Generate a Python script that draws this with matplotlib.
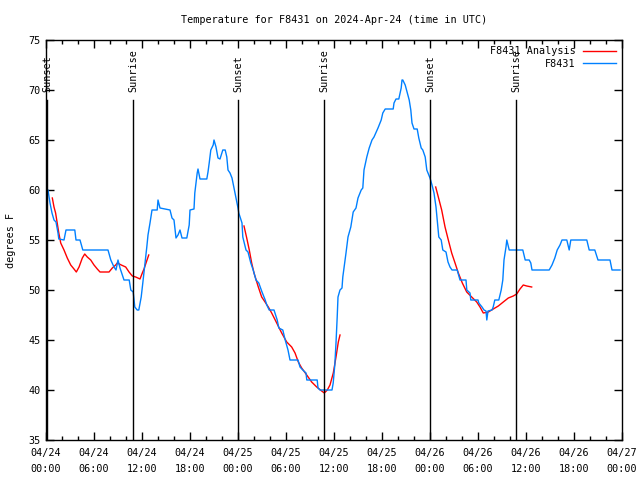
import matplotlib
matplotlib.use("Agg")
import matplotlib.pyplot as plt
from matplotlib.ticker import MultipleLocator, FixedLocator

# ---- data (hours since 2024-04-24 00:00 UTC) ----
obs_hours = [0.0, 0.25, 0.5, 0.75, 1.0, 1.25, 1.5, 1.6, 2.25, 2.5, 3.6, 3.75, 4.25, 4.6, 7.75, 8.1, 8.5,
             8.75, 9.0, 9.25, 9.75, 10.4, 10.6, 10.9, 11.1, 11.4, 11.6, 11.9, 12.1, 12.6, 12.75, 13.0,
             13.25, 13.9, 14.0, 14.25, 15.5, 15.75, 16.0, 16.25, 16.5, 16.75, 17.0, 17.6, 17.9, 18.0,
             18.5, 18.6, 18.9, 19.0, 19.25, 20.1, 20.25, 20.4, 20.6, 20.9, 21.0, 21.25, 21.5, 21.75,
             22.1, 22.4, 22.6, 22.75, 23.0, 23.25, 23.5, 23.75, 24.0, 24.1, 24.5, 24.6, 25.0, 25.25,
             25.6, 25.9, 26.25, 26.6, 27.0, 27.4, 27.6, 27.9, 28.5, 28.9, 29.1, 29.6, 29.9, 30.25,
             30.5, 31.5, 31.75, 32.1, 32.5, 32.6, 33.9, 34.0, 34.25, 35.75, 35.9, 36.1, 36.25, 36.4,
             36.5, 36.75, 37.0, 37.1, 37.5, 37.75, 38.1, 38.4, 38.75, 39.0, 39.4, 39.6, 39.75, 40.1,
             40.4, 40.75, 41.0, 41.4, 41.5, 41.9, 42.1, 42.4, 43.4, 43.5, 43.75, 44.1, 44.4, 44.5,
             44.6, 44.9, 45.1, 45.4, 45.6, 45.75, 46.0, 46.4, 46.6, 46.9, 47.1, 47.4, 47.6, 48.0,
             48.25, 48.5, 48.75, 48.9, 49.1, 49.4, 49.6, 50.0, 50.25, 50.5, 50.75, 51.4, 51.75, 52.5,
             52.6, 53.0, 53.1, 54.0, 54.1, 54.5, 54.75, 55.0, 55.1, 55.25, 55.75, 55.9, 56.1, 56.6,
             56.9, 57.1, 57.25, 57.5, 57.6, 57.75, 57.9, 59.6, 59.9, 60.4, 60.6, 60.75, 62.9, 63.25,
             63.6, 63.9, 64.25, 64.5, 65.1, 65.4, 65.6, 67.6, 67.9, 68.6, 69.0, 70.5, 70.75, 71.75]
obs_temps = [60.0, 60.0, 58.7, 57.7, 57.0, 56.8, 55.7, 55.1, 55.0, 56.0, 56.0, 55.0, 55.0, 54.0, 54.0, 53.0, 52.3,
             52.0, 53.0, 52.2, 51.0, 51.0, 50.0, 49.8, 48.3, 48.0, 48.0, 49.3, 50.7, 54.3, 55.5, 56.7,
             58.0, 58.0, 59.0, 58.2, 58.0, 57.2, 57.0, 55.2, 55.5, 56.0, 55.2, 55.2, 56.5, 58.0,
             58.1, 59.7, 61.7, 62.1, 61.1, 61.1, 61.8, 62.7, 64.0, 64.5, 65.0, 64.3, 63.2, 63.1,
             64.0, 64.0, 63.3, 62.0, 61.7, 61.2, 60.2, 59.2, 58.2, 57.7, 56.7, 55.3, 54.0, 53.8,
             52.7, 52.0, 51.0, 50.7, 49.8, 49.0, 48.5, 48.0, 48.0, 47.0, 46.2, 46.0, 45.0, 44.0,
             43.0, 43.0, 42.3, 42.0, 41.7, 41.0, 41.0, 40.2, 40.0, 40.0, 40.7, 42.5, 44.7, 47.3,
             49.3, 50.0, 50.2, 51.3, 53.7, 55.3, 56.3, 57.8, 58.2, 59.2, 60.0, 60.2, 62.0, 63.3,
             64.2, 65.0, 65.3, 66.0, 66.2, 67.0, 67.7, 68.1, 68.1, 68.7, 69.1, 69.1, 70.2, 71.0,
             71.0, 70.5, 69.9, 69.0, 68.0, 66.7, 66.1, 66.1, 65.2, 64.2, 64.0, 63.3, 62.0, 61.2,
             60.5, 59.7, 58.3, 57.0, 55.3, 55.0, 54.0, 53.8, 52.8, 52.3, 52.0, 52.0, 51.0, 51.0,
             50.0, 49.7, 49.0, 49.0, 48.7, 48.3, 48.0, 47.9, 47.0, 47.9, 48.0, 48.3, 49.0, 49.0,
             50.0, 51.0, 53.0, 54.3, 55.0, 54.5, 54.0, 54.0, 53.0, 53.0, 52.7, 52.0, 52.0, 52.5,
             53.2, 54.0, 54.5, 55.0, 55.0, 54.0, 55.0, 55.0, 54.0, 54.0, 53.0, 53.0, 52.0, 52.0]

ana1_hours = [0.79, 1.0, 1.2, 1.4, 1.6, 1.84, 2.25, 2.66, 3.09, 3.5, 3.79, 4.13, 4.54, 4.84, 5.16, 5.59,
              6.0, 6.41, 6.75, 7.88, 8.29, 8.71, 8.91, 9.41, 9.96, 10.38, 10.79, 11.21, 11.75, 12.04,
              12.25, 12.84]
ana1_temps = [59.2, 58.3, 57.7, 56.7, 55.7, 54.7, 54.0, 53.2, 52.5, 52.1, 51.8, 52.3, 53.2, 53.6, 53.3, 53.0,
              52.5, 52.1, 51.8, 51.8, 52.2, 52.5, 52.7, 52.5, 52.3, 51.8, 51.4, 51.3, 51.1, 51.7,
              52.1, 53.5]
ana2_hours = [24.75, 25.09, 25.41, 25.71, 26.0, 26.54, 26.96, 27.38, 27.79, 28.21, 28.84, 29.46, 30.09,
              30.71, 31.13, 31.54, 31.96, 32.59, 33.21, 33.84, 34.46, 34.79, 35.16, 35.5, 35.91, 36.25,
              36.54, 36.75]
ana2_temps = [56.4, 55.2, 54.0, 52.7, 51.7, 50.3, 49.3, 48.8, 48.3, 47.7, 46.7, 45.7, 44.8,
              44.3, 43.7, 42.8, 42.2, 41.5, 40.8, 40.3, 39.9, 39.7, 40.0, 40.5, 41.7, 43.3,
              44.8, 45.5]
ana3_hours = [48.71, 49.04, 49.46, 49.88, 50.29, 50.71, 51.13, 51.54, 52.04, 52.59, 53.21, 53.84, 54.25,
              54.66, 55.29, 55.91, 56.54, 57.16, 57.79, 58.41, 58.84, 59.25, 59.66, 60.09, 60.71]
ana3_temps = [60.3, 59.3, 58.0, 56.3, 55.0, 53.7, 52.7, 51.7, 50.7, 49.8, 49.3, 48.8, 48.3,
              47.7, 47.8, 48.1, 48.4, 48.8, 49.2, 49.4, 49.6, 50.1, 50.5, 50.4, 50.3]

sun_hours = [0.12, 10.88, 24.0, 34.75, 48.0, 58.75]
sun_labels = ["Sunset", "Sunrise", "Sunset", "Sunrise", "Sunset", "Sunrise"]

xtick_hours = [0, 6, 12, 18, 24, 30, 36, 42, 48, 54, 60, 66, 72]
xtick_labels = ["04/24\n00:00", "04/24\n06:00", "04/24\n12:00", "04/24\n18:00",
                "04/25\n00:00", "04/25\n06:00", "04/25\n12:00", "04/25\n18:00",
                "04/26\n00:00", "04/26\n06:00", "04/26\n12:00", "04/26\n18:00",
                "04/27\n00:00"]
ytick_values = [35, 40, 45, 50, 55, 60, 65, 70, 75]

title = "Temperature for F8431 on 2024-Apr-24 (time in UTC)"
ylabel = "degrees F"

# ---- plotting ----
plt.rcParams['font.family'] = ['DejaVu Sans Mono']
FS = 7.3
RED = '#ff0000'
BLUE = '#0080ff'

fig = plt.figure(figsize=(6.4, 4.8), dpi=100)
ax = fig.add_axes([46/640, 1-440/480, 576/640, 400/480])

ax.plot(ana1_hours, ana1_temps, color=RED, lw=1.0, label="F8431 Analysis")
ax.plot(ana2_hours, ana2_temps, color=RED, lw=1.0)
ax.plot(ana3_hours, ana3_temps, color=RED, lw=1.0)
ax.plot(obs_hours, obs_temps, color=BLUE, lw=1.0, label="F8431")

for h, lab in zip(sun_hours, sun_labels):
    ax.plot([h, h], [35, 69.0], color='black', lw=1.0)
    ax.text(h, 69.75, lab, rotation=90, ha='center', va='bottom', fontsize=FS)

ax.set_xlim(0, 72)
ax.set_ylim(35, 75)
ax.xaxis.set_major_locator(FixedLocator(xtick_hours))
ax.set_xticklabels(xtick_labels, linespacing=1.75)
ax.xaxis.set_minor_locator(MultipleLocator(2))
ax.yaxis.set_major_locator(FixedLocator(ytick_values))
ax.set_yticklabels([str(v) for v in ytick_values])
ax.tick_params(which='both', direction='in', top=True, right=True, labelsize=FS, width=1, colors='black')
ax.tick_params(which='major', length=6, pad=4)
ax.tick_params(axis='x', which='major', pad=6)
ax.tick_params(which='minor', length=3)
for s in ax.spines.values():
    s.set_linewidth(1.0)

ax.set_title(title, fontsize=FS, pad=12)
ax.set_ylabel(ylabel, fontsize=FS, labelpad=9)

leg = ax.legend(loc='upper right', frameon=False, fontsize=FS, markerfirst=False,
                handlelength=3.2, handletextpad=0.8, borderaxespad=0.2, labelspacing=0.25)

fig.savefig("out.png", dpi=100)
